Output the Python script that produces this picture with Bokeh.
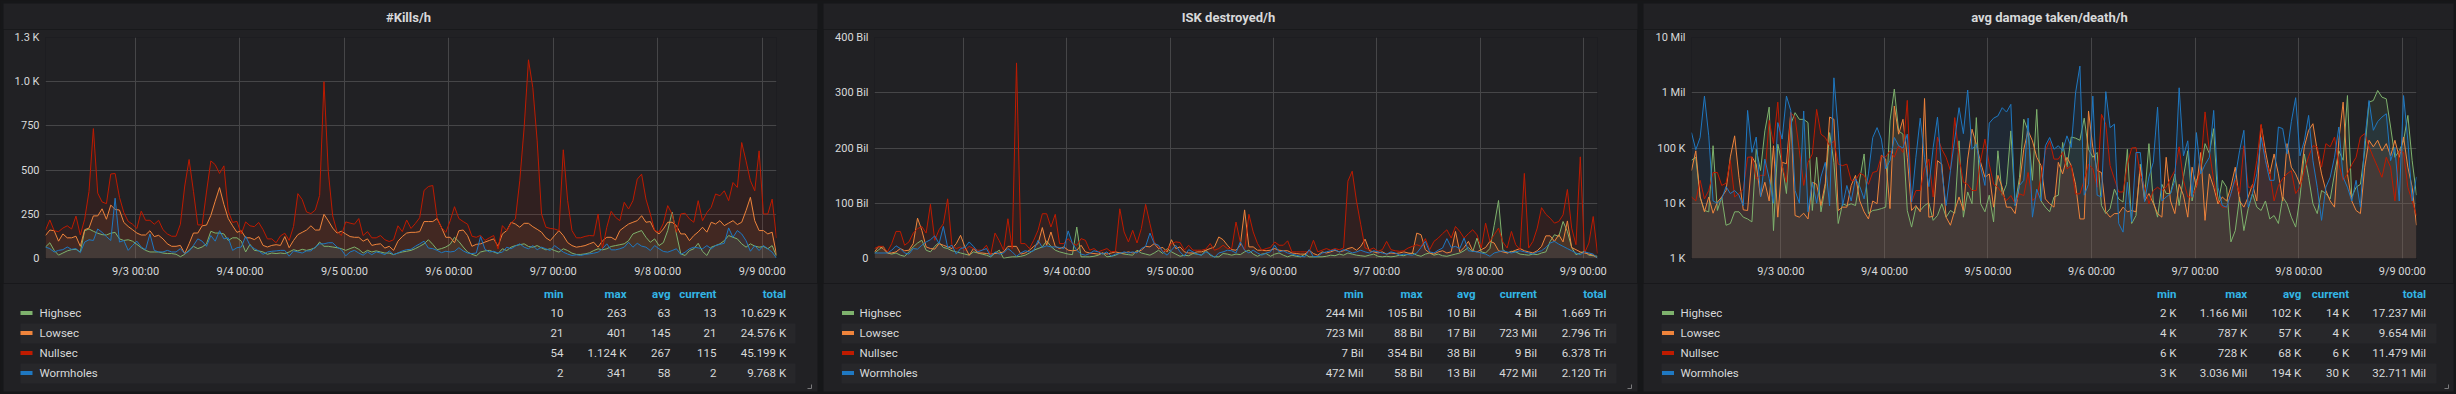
from bokeh.plotting import figure
from bokeh.layouts import row, column
from bokeh.models import Range1d, FixedTicker, Spacer
from bokeh.core.properties import value
from bokeh.embed import file_html
from bokeh.resources import INLINE

# ---------------- data ----------------
series_names = ["Highsec", "Lowsec", "Nullsec", "Wormholes"]
series_colors = ["#7EB26D", "#EF843C", "#BF1B00", "#1F78C1"]

# hourly samples: first sample 9/2 03:20 (hours counted from 9/2 00:00)
first_hour = 3.3
n_points = 169
hours = [first_hour + i for i in range(n_points)]
day_ticks = [24, 48, 72, 96, 120, 144, 168]
day_labels = ["9/3 00:00", "9/4 00:00", "9/5 00:00", "9/6 00:00", "9/7 00:00", "9/8 00:00", "9/9 00:00"]

panel_titles = ["#Kills/h", "ISK destroyed/h", "avg damage taken/death/h"]

# ---- #Kills/h
kills_highsec = [65,89,46,19,31,43,50,52,37,157,167,154,143,135,133,143,148,111,102,106,98,80,61,46,37,37,37,31,28,28,24,10,24,46,69,56,65,83,154,144,144,139,102,117,117,98,37,80,46,43,37,
    24,31,28,31,28,37,50,43,52,46,52,61,93,69,69,65,61,56,46,56,65,52,31,46,37,43,37,31,31,22,31,37,41,46,56,69,83,106,80,50,56,65,80,120,96,65,37,24,15,37,43,46,37,28,
    55,45,64,73,78,83,68,64,73,60,49,55,45,36,55,45,30,23,23,26,32,45,55,49,55,68,73,78,83,101,139,149,158,120,92,111,73,90,158,263,139,26,17,45,55,86,40,17,64,73,83,101,130,120,111,83,64,83,70,64,68,55,73,13]
kills_lowsec = [130,161,157,98,139,117,117,126,69,163,172,241,241,281,222,302,278,274,204,181,163,144,133,133,157,124,131,111,83,69,69,74,28,83,144,144,185,189,244,324,401,306,226,185,148,157,117,117,107,124,74,
    65,74,78,74,124,61,102,135,148,161,185,161,161,250,213,172,144,154,139,124,120,120,98,111,74,80,83,59,69,46,98,124,144,148,148,152,209,209,209,226,176,120,120,89,157,161,130,69,80,83,93,102,111,69,
    139,158,205,195,177,199,199,180,165,149,117,101,130,158,130,90,73,64,68,73,83,92,64,100,120,120,105,158,177,195,205,214,242,205,209,158,139,167,205,205,186,139,139,101,130,150,177,149,205,195,214,186,200,214,192,205,271,346,214,158,158,139,149,21]
kills_nullsec = [160,218,157,152,172,185,167,240,133,222,380,735,370,320,310,478,481,346,260,210,194,170,268,216,216,194,216,163,139,126,126,194,410,560,380,190,190,376,552,531,481,524,268,204,210,139,207,185,180,204,163,
    111,111,89,128,143,102,181,367,333,263,254,274,357,1000,491,241,152,130,207,200,194,226,130,152,117,117,130,106,96,106,185,152,218,170,198,231,385,407,413,231,176,148,213,293,226,209,194,126,120,131,102,117,130,54,
    186,158,200,224,440,740,1124,966,665,252,177,170,167,158,615,327,158,117,117,125,130,128,252,55,177,267,233,214,318,280,327,449,477,336,252,158,149,199,299,252,149,252,256,224,205,327,214,260,290,365,355,383,327,430,402,656,552,440,383,609,252,252,336,115]
kills_wormholes = [65,56,37,46,50,65,52,56,33,93,106,102,167,148,124,102,341,93,102,46,74,98,65,50,139,46,37,37,46,37,37,56,28,41,74,111,98,69,130,98,157,111,117,46,61,65,126,74,56,43,24,
    37,41,43,46,46,13,43,37,31,43,43,65,83,83,89,89,65,50,15,37,46,31,19,37,22,37,31,22,43,22,31,43,50,52,69,83,98,59,56,46,33,41,37,41,61,43,31,28,31,124,52,37,41,31,
    36,64,55,70,83,64,55,73,50,64,55,45,73,55,36,25,17,21,17,23,26,30,36,55,83,49,49,55,64,92,64,86,70,64,45,73,55,40,36,45,55,23,36,55,64,60,55,73,55,73,80,86,173,120,158,139,101,41,73,45,73,55,36,2]

# ---- ISK destroyed/h (billions)
isk_highsec = [10,16,22,10,8,10,6,4,12,21,28,33,15,12,22,29,20,18,14,12,10,8,6,12,10,8,6,3,10,15,0.244,2,3,3,4,6,10,15,18,21,32,22,15,12,10,8,7,57,3,3,
    3,4,6,10,3,4,6,10,8,7,6,15,10,8,6,10,15,9,18,12,8,4,6,5,9,8,6,15,6,3,3,9,8,6,8,7,12,15,8,4,8,9,4,8,10,6,3,6,4,3,8,3,3,3,
    3,4,6,5,8,6,10,8,6,5,4,6,8,4,3,4,3,4,6,5,8,10,6,4,8,10,6,8,5,4,6,8,10,14,20,12,37,12,10,18,60,105,16,10,13,12,8,7,6,8,7,10,12,31,43,40,67,49,20,7,10,13,6,5,4]
isk_lowsec = [12,22,18,10,10,12,18,14,15,27,73,51,21,18,17,27,24,21,18,27,42,21,6,18,10,10,9,8,9,10,12,22,22,22,8,10,15,22,27,56,24,48,22,18,21,15,14,15,24,12,
    10,9,8,10,8,10,12,10,10,12,10,12,15,22,21,27,18,20,12,34,18,21,12,10,10,12,12,15,18,21,39,34,24,16,15,24,88,21,21,15,15,14,15,18,15,14,14,10,9,8,8,15,9,6,
    12,10,12,15,12,14,18,20,15,22,35,14,12,10,12,8,10,9,10,12,10,9,46,43,16,10,8,12,14,10,12,49,12,20,31,14,12,16,20,31,28,14,12,10,12,15,18,14,12,10,14,22,41,41,31,43,30,68,20,16,12,10,8,6,0.723]
isk_nullsec = [18,22,22,12,27,49,49,24,30,46,54,58,46,98,33,52,63,108,24,18,21,15,22,18,15,15,24,7,46,32,15,72,18,354,27,27,18,33,51,81,81,57,80,27,27,36,27,24,36,33,
    15,18,12,15,18,12,13,90,48,30,51,28,54,98,63,30,21,13,15,27,30,29,15,24,15,15,15,17,27,15,18,24,18,18,66,30,15,80,48,27,15,18,20,30,24,24,32,12,12,12,12,12,33,12,
    15,18,15,18,16,19,140,158,104,61,19,16,19,13,16,31,16,14,13,14,19,22,25,22,36,16,31,37,45,52,37,58,49,37,45,52,43,19,64,31,43,55,30,19,49,25,16,154,19,31,55,92,80,73,64,67,79,125,55,25,184,10,28,76,9]
isk_wormholes = [10,10,10,10,15,23,18,10,8,18,17,24,30,34,41,27,58,20,24,8,18,20,30,22,12,15,18,4,12,8,10,18,12,4,10,14,12,14,33,20,23,21,21,20,18,50,27,15,8,6,
    9,14,12,8,12,4,8,9,12,10,12,10,18,22,46,27,24,12,6,15,24,12,4,16,12,8,6,12,8,2,10,12,15,14,10,30,15,10,15,10,6,10,12,24,12,14,10,8,6,4,3,16,3,4,
    10,12,14,16,12,16,14,10,12,15,12,10,14,12,10,8,12,10,6,8,7,6,10,20,31,12,10,15,19,36,20,22,18,37,14,13,12,10,8,4,10,12,14,12,10,12,14,12,10,8,12,14,20,28,31,26,22,18,14,10,7,12,10,8,0.472]

# ---- avg damage taken/death/h (thousands)
dmg_highsec = [60,68,13,7.4,7,110,7.4,13,4,4.3,7,7,5.6,5.2,4.6,95,39,204,550,3.2,117,51,15,270,436,330,330,288,7.4,68,7,20,190,55,4.3,9.8,9.1,9.8,9.1,27.5,78,6.5,7.4,7.6,8,8.5,309,1166,204,178,7.4,
    3.7,8.5,7.4,9.1,10.2,4.9,6,9.8,5.6,7.4,6.6,135,5.6,16,9.8,355,9.8,7,14,4.6,89,14,22,204,9.1,29.5,331,204,26,500,11,8.5,7,13,14,126,45,158,151,138,347,95,68,83,9.1,6.5,8,18,12,10.5,95,4.3,6,
    51,13,120,11,5.6,22,15,15,34,9.1,30,89,11,26,39,120,80,224,9.8,26,19.5,2,3.2,13,3.2,8,15,8.5,7.4,11,5.2,6,4.3,13,9.8,5.6,3.7,13,78,29.5,9.8,6.5,17,15,12,34,89,60,891,13,19.5,22,89,676,724,1100,832,776,240,68,89,135,389,59,14]
dmg_lowsec = [39,89,13,7,13,6.6,10.5,13,17,69,166,29.5,7.6,7.4,69,51,13,24,11,110,5.6,55,52,436,6,5.6,6.6,5.2,24,22,9.1,23,363,331,7.4,8.5,8.5,21,32,11,7,5.2,11,9.8,74,63,8,575,178,331,68,
    7.4,9.1,7,787,5.6,5.8,59,51,5.6,4,7.4,13,7.4,63,219,117,55,29.5,34,8.5,32,19.5,8.5,8.5,6.5,22,95,204,135,68,48,12,9.8,8.5,55,34,68,48,22,5.2,5.2,468,102,39,36,7,5.6,6.5,6.5,8.5,7,7.4,7,
    45,11,15,10,6.5,5.6,68,11,6.5,22,14,5.6,45,19.5,83,4.9,34,19.5,9.8,13,11,20,45,11,8.5,13,22,11,257,89,34,78,34,11,120,45,34,22,105,209,275,89,34,17,11,8.5,138,676,34,11,7.4,6.5,45,138,105,138,89,120,72,138,68,158,45,19.5,4]
dmg_nullsec = [13,11,26,12,17,36,36,21,23,59,13,15,18,68,69,27.5,32,32,316,120,676,48,24,436,355,89,21,55,78,500,178,155,110,135,51,48,51,26,26,35,32,22,36,38,72,69,89,68,110,83,728,
    10.5,17,17,42,63,13,158,95,68,39,355,68,24,22,17,17,59,145,51,22,19.5,14.8,11.2,13.8,9.8,14.8,13.8,36,11.2,13,29.5,89,135,63,63,83,42,48,14.8,14.8,26,51,42,19.5,407,270,48,27.5,16,16,51,100,102,
    34,20,9.8,17,19.5,17,19.5,28,39,105,26,13,13,20,45,450,89,26,11,8.5,8.5,15,26,15,110,19.5,19.5,60,270,59,36,11,21,28,34,39,15,19.5,39,70,110,105,45,120,105,158,51,26,34,50,68,158,182,105,68,45,29.5,68,45,11,89,83,19.5,11,6]
dmg_wormholes = [190,93,155,871,166,11,10,12,20,15,17,14,9,479,83,158,13,63,28,10,288,145,871,479,17,10,468,7,24,10,30,55,9,1862,204,9,21,11,28,20,12,34,155,234,145,42,59,155,110,100,178,
    10.5,68,347,68,20,102,363,39,9.1,39,145,537,182,1122,95,117,45,21,282,347,380,537,447,617,9.1,21,26,347,5.6,18,11,110,155,95,110,89,166,102,1000,3036,14,22,871,14,13,1047,234,270,4.3,3,24,4.6,83,
    83,10.7,30,55,550,11,13,15,26,1230,72,135,13,190,34,50,68,479,19.5,9.1,8.5,15,29.5,89,209,8.5,15,34,155,59,26,26,240,224,78,300,813,72,135,389,59,19.5,4.9,19.5,29.5,68,240,29.5,19.5,11,26,8.5,135,724,209,300,363,417,59,102,11,891,135,11,30]

# y axis ticks / labels
kills_ticks = [0, 250, 500, 750, 1000, 1250]
kills_tick_labels = ["0", "250", "500", "750", "1.0 K", "1.3 K"]
isk_ticks = [0, 100, 200, 300, 400]
isk_tick_labels = ["0", "100 Bil", "200 Bil", "300 Bil", "400 Bil"]
dmg_ticks = [1000, 10000, 100000, 1000000, 10000000]
dmg_tick_labels = ["1 K", "10 K", "100 K", "1 Mil", "10 Mil"]

# legend tables
stat_headers = ["min", "max", "avg", "current", "total"]
kills_stats = [["10", "263", "63", "13", "10.629 K"],
               ["21", "401", "145", "21", "24.576 K"],
               ["54", "1.124 K", "267", "115", "45.199 K"],
               ["2", "341", "58", "2", "9.768 K"]]
isk_stats = [["244 Mil", "105 Bil", "10 Bil", "4 Bil", "1.669 Tri"],
             ["723 Mil", "88 Bil", "17 Bil", "723 Mil", "2.796 Tri"],
             ["7 Bil", "354 Bil", "38 Bil", "9 Bil", "6.378 Tri"],
             ["472 Mil", "58 Bil", "13 Bil", "472 Mil", "2.120 Tri"]]
dmg_stats = [["2 K", "1.166 Mil", "102 K", "14 K", "17.237 Mil"],
             ["4 K", "787 K", "57 K", "4 K", "9.654 Mil"],
             ["6 K", "728 K", "68 K", "6 K", "11.479 Mil"],
             ["3 K", "3.036 Mil", "194 K", "30 K", "32.711 Mil"]]

# ---------------- style / layout ----------------
PANEL_BG = "#212124"
PAGE_BG = "#161719"
TEXT = "#d8d9da"
GRID = "#464648"
HEADER = "#33b5e5"
STRIPE = "#27272a"
FONT = "Roboto"

TOTAL_W, TOTAL_H = 2456, 394
panel_left = [3, 823, 1643]
panel_width = [814, 814, 810]
title_center = [408, 1228, 2049]
TITLE_H = 29      # page y 0..29
CHART_H = 254     # page y 29..283
TABLE_H = 111     # page y 283..394
# legend geometry in page pixels
legend_cols = [[563, 626, 670, 716, 785.6],
               [1363, 1422, 1475, 1536.5, 1606],
               [2176, 2246.7, 2300.8, 2348.6, 2425.6]]
legend_swatch = [26, 847.5, 1667.5]
legend_label = [39, 859, 1680]
legend_stripe = [(20, 795), (841, 1616), (1661, 2436)]
resize_handle_x = [811, 1631, 2448]


def strip_fig(height):
    f = figure(width=TOTAL_W, height=height, x_range=Range1d(0, TOTAL_W), y_range=Range1d(0, height),
               output_backend="svg", toolbar_location=None, min_border=0,
               x_axis_location=None, y_axis_location=None,
               background_fill_color=PAGE_BG, border_fill_color=PAGE_BG, outline_line_color=None)
    f.grid.visible = False
    return f


# --- titles strip (page y 0..29, panel body from y=3)
tfig = strip_fig(TITLE_H)
tfig.quad(left=panel_left, right=[l + w for l, w in zip(panel_left, panel_width)],
          bottom=[0] * 3, top=[TITLE_H - 3] * 3, fill_color=PANEL_BG, line_color=None)
tfig.text(x=title_center, y=[TITLE_H - 17.3] * 3, text=panel_titles, text_align="center",
          text_baseline="middle", text_color=TEXT, text_font=value(FONT), text_font_size="13px",
          text_font_style="bold")


def chart_fig(series, w, y_range, yticks, ylabels, left, right, log=False):
    p = figure(width=w, height=CHART_H, x_range=Range1d(first_hour, first_hour + n_points - 1),
               y_range=y_range, y_axis_type="log" if log else "linear",
               output_backend="svg", toolbar_location=None,
               min_border_left=left, min_border_right=right, min_border_top=8, min_border_bottom=25,
               background_fill_color=PANEL_BG, border_fill_color=PANEL_BG, outline_line_color=None)
    base = yticks[0]
    for vals, c in zip(series, series_colors):
        p.varea(x=hours, y1=[base] * len(hours), y2=vals, fill_color=c, fill_alpha=0.1)
    for vals, c in zip(series, series_colors):
        p.line(x=hours, y=vals, line_color=c, line_width=1)
    p.xaxis.ticker = FixedTicker(ticks=day_ticks)
    p.xgrid.ticker = FixedTicker(ticks=day_ticks)
    p.yaxis.ticker = FixedTicker(ticks=yticks)
    p.ygrid.ticker = FixedTicker(ticks=yticks)
    p.xaxis.major_label_overrides = dict(zip(day_ticks, day_labels))
    p.yaxis.major_label_overrides = dict(zip(yticks, ylabels))
    for ax in (p.xaxis[0], p.yaxis[0]):
        ax.axis_line_color = None
        ax.major_tick_line_color = None
        ax.minor_tick_line_color = None
        ax.major_tick_out = 0
        ax.major_tick_in = 0
        ax.major_label_text_color = TEXT
        ax.major_label_text_font = FONT
        ax.major_label_text_font_size = "11px"
        ax.major_label_standoff = 6
    p.xgrid.grid_line_color = GRID
    p.ygrid.grid_line_color = GRID
    return p


c1 = chart_fig([kills_highsec, kills_lowsec, kills_nullsec, kills_wormholes], panel_width[0],
               Range1d(0, 1250), kills_ticks, kills_tick_labels, 42, 41)
c2 = chart_fig([isk_highsec, isk_lowsec, isk_nullsec, isk_wormholes], panel_width[1],
               Range1d(0, 400), isk_ticks, isk_tick_labels, 51, 40)
dmg_series = [[v * 1000 for v in s] for s in (dmg_highsec, dmg_lowsec, dmg_nullsec, dmg_wormholes)]
c3 = chart_fig(dmg_series, panel_width[2], Range1d(1000, 10000000), dmg_ticks, dmg_tick_labels,
               48, 37, log=True)

charts = row(Spacer(width=3, height=CHART_H), c1, Spacer(width=6, height=CHART_H), c2,
             Spacer(width=6, height=CHART_H), c3, Spacer(width=3, height=CHART_H), spacing=0,
             styles={"background-color": PAGE_BG})

# --- legend tables strip (page y 283..394); y here = 394 - page_y
lfig = strip_fig(TABLE_H)
lfig.quad(left=panel_left, right=[l + w for l, w in zip(panel_left, panel_width)],
          bottom=[3] * 3, top=[TABLE_H] * 3, fill_color=PANEL_BG, line_color=None)
row_y = [82, 62, 42, 22]
for k, stats in enumerate([kills_stats, isk_stats, dmg_stats]):
    sl, sr = legend_stripe[k]
    lfig.quad(left=[sl, sl], right=[sr, sr], bottom=[51, 11], top=[71, 31],
              fill_color=STRIPE, line_color=None)
    lfig.text(x=legend_cols[k], y=[101] * 5, text=stat_headers, text_align="right",
              text_baseline="middle", text_color=HEADER, text_font=value(FONT),
              text_font_size="11.5px", text_font_style="bold")
    lfig.rect(x=[legend_swatch[k]] * 4, y=[y - 0.5 for y in row_y], width=12, height=4,
              fill_color=series_colors, line_color=None)
    lfig.text(x=[legend_label[k]] * 4, y=row_y, text=series_names, text_align="left",
              text_baseline="middle", text_color=TEXT, text_font=value(FONT), text_font_size="11.5px")
    for j, cx in enumerate(legend_cols[k]):
        lfig.text(x=[cx] * 4, y=row_y, text=[r[j] for r in stats], text_align="right",
                  text_baseline="middle", text_color=TEXT, text_font=value(FONT),
                  text_font_size="11.5px")

# small panel resize handles in the bottom-right corners
lfig.multi_line(xs=[[x - 4, x, x] for x in resize_handle_x], ys=[[6, 6, 10]] * 3,
                line_color="#7a7a7c", line_width=1)

p = column(tfig, charts, lfig, spacing=0, styles={"background-color": PAGE_BG})

open("out.html", "w").write(file_html(p, INLINE))
